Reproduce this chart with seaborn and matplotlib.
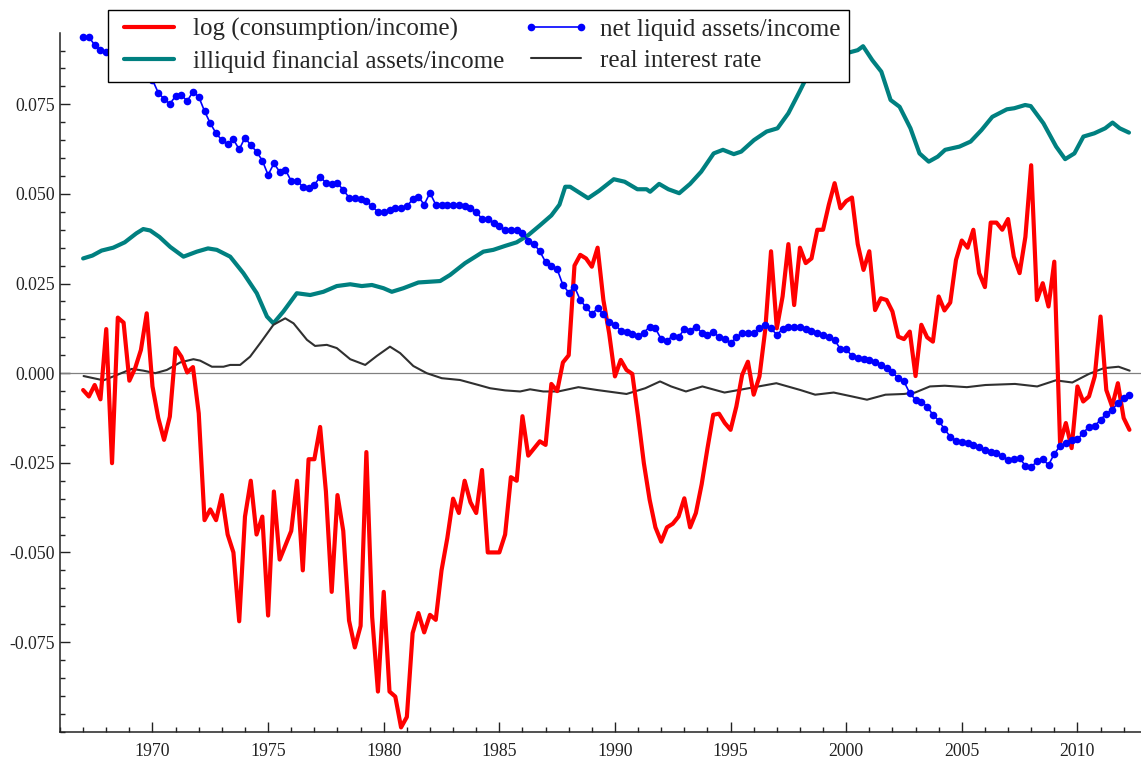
import numpy as np
import pandas as pd
import matplotlib
matplotlib.use("Agg")
import matplotlib.pyplot as plt
import matplotlib.ticker as mticker
import seaborn as sns

# Quarterly series, 1967Q1 - 2012Q2
quarters = pd.period_range("1967Q1", "2012Q2", freq="Q")
q_year = quarters.year + (quarters.quarter - 1) / 4

log_cons_income = [
    -0.0047, -0.0065, -0.0033, -0.0073,  # 1967
    0.0123, -0.0251, 0.0155, 0.0141,     # 1968
    -0.0021, 0.0014, 0.0065, 0.0167,     # 1969
    -0.0037, -0.0125, -0.0186, -0.0121,  # 1970
    0.0070, 0.0046, 0.0002, 0.0017,      # 1971
    -0.0112, -0.041, -0.038, -0.041,     # 1972
    -0.034, -0.045, -0.050, -0.0692,     # 1973
    -0.040, -0.030, -0.045, -0.040,      # 1974
    -0.0676, -0.033, -0.052, -0.048,     # 1975
    -0.044, -0.030, -0.055, -0.024,      # 1976
    -0.024, -0.015, -0.033, -0.061,      # 1977
    -0.034, -0.044, -0.069, -0.0765,     # 1978
    -0.0705, -0.022, -0.068, -0.0888,    # 1979
    -0.061, -0.0888, -0.0902, -0.0988,   # 1980
    -0.0959, -0.0725, -0.0669, -0.0723,  # 1981
    -0.0674, -0.0688, -0.055, -0.046,    # 1982
    -0.035, -0.039, -0.030, -0.036,      # 1983
    -0.039, -0.027, -0.050, -0.050,      # 1984
    -0.050, -0.045, -0.029, -0.030,      # 1985
    -0.012, -0.023, -0.021, -0.019,      # 1986
    -0.020, -0.003, -0.005, 0.003,       # 1987
    0.005, 0.030, 0.033, 0.032,          # 1988
    0.0297, 0.035, 0.0204, 0.0111,       # 1989
    -0.0009, 0.0037, 0.0009, -0.0002,    # 1990
    -0.0121, -0.0251, -0.0353, -0.043,   # 1991
    -0.047, -0.043, -0.042, -0.040,      # 1992
    -0.0349, -0.043, -0.039, -0.031,     # 1993
    -0.021, -0.0116, -0.0113, -0.0139,   # 1994
    -0.0158, -0.0093, -0.0005, 0.0032,   # 1995
    -0.006, -0.0009, 0.0121, 0.034,      # 1996
    0.0125, 0.0214, 0.036, 0.019,        # 1997
    0.035, 0.0307, 0.032, 0.040,         # 1998
    0.040, 0.047, 0.053, 0.046,          # 1999
    0.048, 0.049, 0.036, 0.0288,         # 2000
    0.034, 0.0176, 0.0209, 0.0204,       # 2001
    0.0172, 0.0102, 0.0095, 0.0116,      # 2002
    -0.0008, 0.0135, 0.010, 0.0088,      # 2003
    0.0214, 0.0175, 0.0197, 0.0316,      # 2004
    0.037, 0.035, 0.040, 0.0279,         # 2005
    0.024, 0.042, 0.042, 0.040,          # 2006
    0.043, 0.0325, 0.0279, 0.038,        # 2007
    0.058, 0.0204, 0.0251, 0.0186,       # 2008
    0.0311, -0.0195, -0.0139, -0.0209,   # 2009
    -0.0037, -0.0079, -0.0065, -0.0009,  # 2010
    0.0158, -0.0047, -0.0093, -0.0028,   # 2011
    -0.0125, -0.0158,                    # 2012
]

net_liquid = [
    0.0937, 0.0938, 0.0915, 0.0901,      # 1967
    0.0895, 0.0881, 0.0885, 0.0864,      # 1968
    0.0852, 0.0858, 0.0848, 0.0832,      # 1969
    0.0818, 0.0782, 0.0765, 0.0751,      # 1970
    0.0773, 0.0776, 0.0759, 0.0785,      # 1971
    0.0771, 0.0731, 0.0697, 0.0669,      # 1972
    0.0650, 0.0639, 0.0652, 0.0624,      # 1973
    0.0657, 0.0636, 0.0618, 0.0593,      # 1974
    0.0553, 0.0585, 0.0562, 0.0567,      # 1975
    0.0536, 0.0537, 0.0520, 0.0516,      # 1976
    0.0525, 0.0548, 0.0531, 0.0528,      # 1977
    0.0530, 0.0511, 0.0490, 0.0488,      # 1978
    0.0485, 0.0480, 0.0465, 0.0450,      # 1979
    0.0450, 0.0455, 0.0460, 0.0460,      # 1980
    0.0465, 0.0485, 0.0492, 0.0470,      # 1981
    0.0503, 0.0470, 0.0470, 0.0470,      # 1982
    0.0470, 0.0470, 0.0465, 0.0460,      # 1983
    0.0450, 0.0430, 0.0430, 0.0420,      # 1984
    0.0410, 0.0400, 0.0400, 0.0400,      # 1985
    0.0390, 0.0370, 0.0360, 0.0340,      # 1986
    0.0310, 0.0300, 0.0290, 0.0246,      # 1987
    0.0225, 0.0241, 0.0204, 0.0184,      # 1988
    0.0165, 0.0181, 0.0164, 0.0144,      # 1989
    0.0135, 0.0119, 0.0116, 0.0110,      # 1990
    0.0104, 0.0113, 0.0130, 0.0125,      # 1991
    0.0095, 0.0091, 0.0104, 0.0100,      # 1992
    0.0123, 0.0119, 0.0130, 0.0113,      # 1993
    0.0107, 0.0116, 0.0100, 0.0095,      # 1994
    0.0084, 0.0100, 0.0112, 0.0113,      # 1995
    0.0113, 0.0125, 0.0135, 0.0125,      # 1996
    0.0107, 0.0123, 0.0128, 0.0130,      # 1997
    0.0128, 0.0123, 0.0119, 0.0113,      # 1998
    0.0107, 0.0100, 0.0093, 0.0067,      # 1999
    0.0067, 0.0048, 0.0042, 0.0039,      # 2000
    0.0037, 0.0030, 0.0023, 0.0014,      # 2001
    0.0002, -0.0014, -0.0023, -0.0056,   # 2002
    -0.0074, -0.0079, -0.0093, -0.0116,  # 2003
    -0.0132, -0.0156, -0.0177, -0.0188,  # 2004
    -0.0193, -0.0195, -0.0200, -0.0205,  # 2005
    -0.0214, -0.0219, -0.0223, -0.0231,  # 2006
    -0.0242, -0.0240, -0.0237, -0.0258,  # 2007
    -0.0262, -0.0246, -0.0240, -0.0256,  # 2008
    -0.0225, -0.0203, -0.0195, -0.0186,  # 2009
    -0.0184, -0.0167, -0.0149, -0.0147,  # 2010
    -0.0130, -0.0113, -0.0102, -0.0084,  # 2011
    -0.0070, -0.0060,                    # 2012
]

# smoother series, read at irregular dates
illiquid_year = [1967.0, 1967.4, 1967.8, 1968.3, 1968.8, 1969.3, 1969.6, 1969.9, 1970.3, 1970.77,
                 1971.34, 1971.92, 1972.4, 1972.78, 1973.36, 1973.93, 1974.51, 1974.95, 1975.23, 1975.66,
                 1976.24, 1976.82, 1977.39, 1977.97, 1978.55, 1979.05, 1979.49, 1979.99, 1980.35, 1980.85,
                 1981.5, 1982.44, 1982.87, 1983.52, 1984.31, 1984.74, 1985.25, 1985.75, 1986.25, 1986.75,
                 1987.25, 1987.6, 1987.85, 1988.06, 1988.84, 1989.32, 1989.95, 1990.42, 1990.97, 1991.37,
                 1991.52, 1991.91, 1992.31, 1992.78, 1993.25, 1993.73, 1994.27, 1994.67, 1995.14, 1995.46,
                 1996.01, 1996.56, 1997.03, 1997.5, 1997.98, 1998.45, 1998.76, 1999.24, 1999.55, 2000.1,
                 2000.5, 2000.73, 2001.13, 2001.52, 2001.92, 2002.31, 2002.78, 2003.17, 2003.57, 2003.96,
                 2004.28, 2004.9, 2005.38, 2005.85, 2006.32, 2006.95, 2007.27, 2007.74, 2007.98, 2008.53,
                 2009.08, 2009.47, 2009.87, 2010.26, 2010.73, 2011.2, 2011.52, 2011.83, 2012.23]
illiquid = [0.0320, 0.0328, 0.0342, 0.0350, 0.0365, 0.0390, 0.0402, 0.0398, 0.0380, 0.0352,
            0.0325, 0.0339, 0.0348, 0.0344, 0.0325, 0.0279, 0.0223, 0.0158, 0.0139, 0.0172,
            0.0223, 0.0218, 0.0227, 0.0243, 0.0248, 0.0243, 0.0246, 0.0237, 0.0227, 0.0237,
            0.0253, 0.0257, 0.0274, 0.0307, 0.0339, 0.0344, 0.0355, 0.0365, 0.0385, 0.0412,
            0.0440, 0.0470, 0.0520, 0.0520, 0.0488, 0.0509, 0.0541, 0.0534, 0.0513, 0.0513,
            0.0506, 0.0528, 0.0513, 0.0502, 0.0528, 0.0562, 0.0613, 0.0623, 0.0611, 0.0618,
            0.0650, 0.0674, 0.0683, 0.0725, 0.0785, 0.0846, 0.0836, 0.0832, 0.0844, 0.0894,
            0.0901, 0.0912, 0.0873, 0.0841, 0.0762, 0.0743, 0.0683, 0.0613, 0.0590, 0.0604,
            0.0623, 0.0632, 0.0646, 0.0678, 0.0715, 0.0736, 0.0739, 0.0748, 0.0745, 0.0697,
            0.0632, 0.0597, 0.0613, 0.0660, 0.0669, 0.0683, 0.0699, 0.0683, 0.0671]

rate_year = [1967.02, 1967.88, 1968.46, 1969.11, 1969.61, 1970.12, 1970.62, 1971.2, 1971.77, 1972.06,
             1972.57, 1973.07, 1973.36, 1973.79, 1974.22, 1974.66, 1975.23, 1975.74, 1976.1, 1976.68,
             1977.03, 1977.54, 1977.97, 1978.55, 1979.2, 1979.7, 1980.27, 1980.71, 1981.28, 1981.86,
             1982.51, 1983.3, 1984.1, 1984.6, 1985.25, 1985.9, 1986.33, 1986.9, 1987.55, 1988.42,
             1989.23, 1990.5, 1991.31, 1991.95, 1992.43, 1993.07, 1993.78, 1994.74, 1995.78, 1996.98,
             1998.02, 1998.66, 1999.46, 2000.26, 2000.9, 2001.7, 2002.5, 2002.98, 2003.62, 2004.26,
             2005.22, 2006.02, 2007.3, 2008.26, 2009.06, 2009.78, 2010.5, 2011.14, 2011.78, 2012.26]
real_rate = [-0.0008, -0.0020, -0.0005, 0.0012, 0.0007, 0.0000, 0.0009, 0.0030, 0.0039, 0.0035,
             0.0018, 0.0018, 0.0023, 0.0023, 0.0046, 0.0084, 0.0135, 0.0153, 0.0139, 0.0093,
             0.0076, 0.0079, 0.0070, 0.0039, 0.0023, 0.0048, 0.0074, 0.0056, 0.0020, 0.0000,
             -0.0014, -0.0019, -0.0033, -0.0042, -0.0048, -0.0051, -0.0045, -0.0051, -0.0051, -0.0039,
             -0.0047, -0.0058, -0.0042, -0.0023, -0.0037, -0.0051, -0.0037, -0.0054, -0.0042, -0.0028,
             -0.0047, -0.0060, -0.0054, -0.0065, -0.0074, -0.0060, -0.0058, -0.0054, -0.0037, -0.0035,
             -0.0039, -0.0033, -0.0030, -0.0037, -0.0020, -0.0026, -0.0002, 0.0014, 0.0018, 0.0007]

df_q = pd.DataFrame({"year": q_year, "cons": log_cons_income, "liquid": net_liquid})
df_ill = pd.DataFrame({"year": illiquid_year, "illiquid": illiquid})
df_rate = pd.DataFrame({"year": rate_year, "rate": real_rate})

sns.set_theme(style="ticks")
plt.rcParams["font.family"] = ["Liberation Serif", "DejaVu Serif"]

fig = plt.figure(figsize=(11.41, 7.62), dpi=100)
ax = fig.add_axes([60 / 1141, 30.3 / 762, 1081 / 1141, 698.4 / 762])

ax.axhline(0, color="#808080", lw=0.9, zorder=1)
sns.lineplot(data=df_ill, x="year", y="illiquid", ax=ax, color="#008080", lw=3.0)
sns.lineplot(data=df_rate, x="year", y="rate", ax=ax, color="#303030", lw=1.5)
sns.lineplot(data=df_q, x="year", y="cons", ax=ax, color="#ff0000", lw=3.0)
sns.lineplot(data=df_q, x="year", y="liquid", ax=ax, color="#0000ff", lw=1.2,
             marker="o", markersize=5.5, markeredgewidth=0)

lines = ax.get_lines()
handles = [lines[3], lines[1], lines[4], lines[2]]
labels = ["log (consumption/income)", "illiquid financial assets/income",
          "net liquid assets/income", "real interest rate"]
leg = ax.legend(handles, labels, ncol=2, loc="upper left",
                bbox_to_anchor=(107.6 / 1141, 1 - 9.5 / 762), bbox_transform=fig.transFigure,
                borderaxespad=0, fontsize=18, frameon=True, fancybox=False, framealpha=1,
                edgecolor="black", handlelength=2.6, handletextpad=0.45, borderpad=0.35,
                columnspacing=0.8, labelspacing=0.35, numpoints=2)
leg.get_frame().set_linewidth(1.0)

ax.set_xlim(1966.0, 2012.75)
ax.set_ylim(-0.1, 0.0948)
ax.set_xticks(range(1970, 2011, 5))
ax.xaxis.set_minor_locator(mticker.MultipleLocator(1))
ax.set_yticks([-0.075, -0.05, -0.025, 0.0, 0.025, 0.05, 0.075])
ax.yaxis.set_minor_locator(mticker.MultipleLocator(0.005))
ax.yaxis.set_major_formatter(mticker.FuncFormatter(lambda v, p: f"{v:.3f}"))
ax.tick_params(which="both", direction="in", colors="#222222", labelsize=12.8)
ax.tick_params(which="major", length=7, width=1)
ax.tick_params(which="minor", length=3.6, width=1)
ax.tick_params(axis="x", pad=8)
ax.tick_params(axis="y", pad=3.5)
ax.set_xlabel("")
ax.set_ylabel("")
sns.despine(ax=ax, top=True, right=True)
for s in ["left", "bottom"]:
    ax.spines[s].set_linewidth(1.1)
    ax.spines[s].set_color("#222222")

fig.savefig("out.png", dpi=100)
